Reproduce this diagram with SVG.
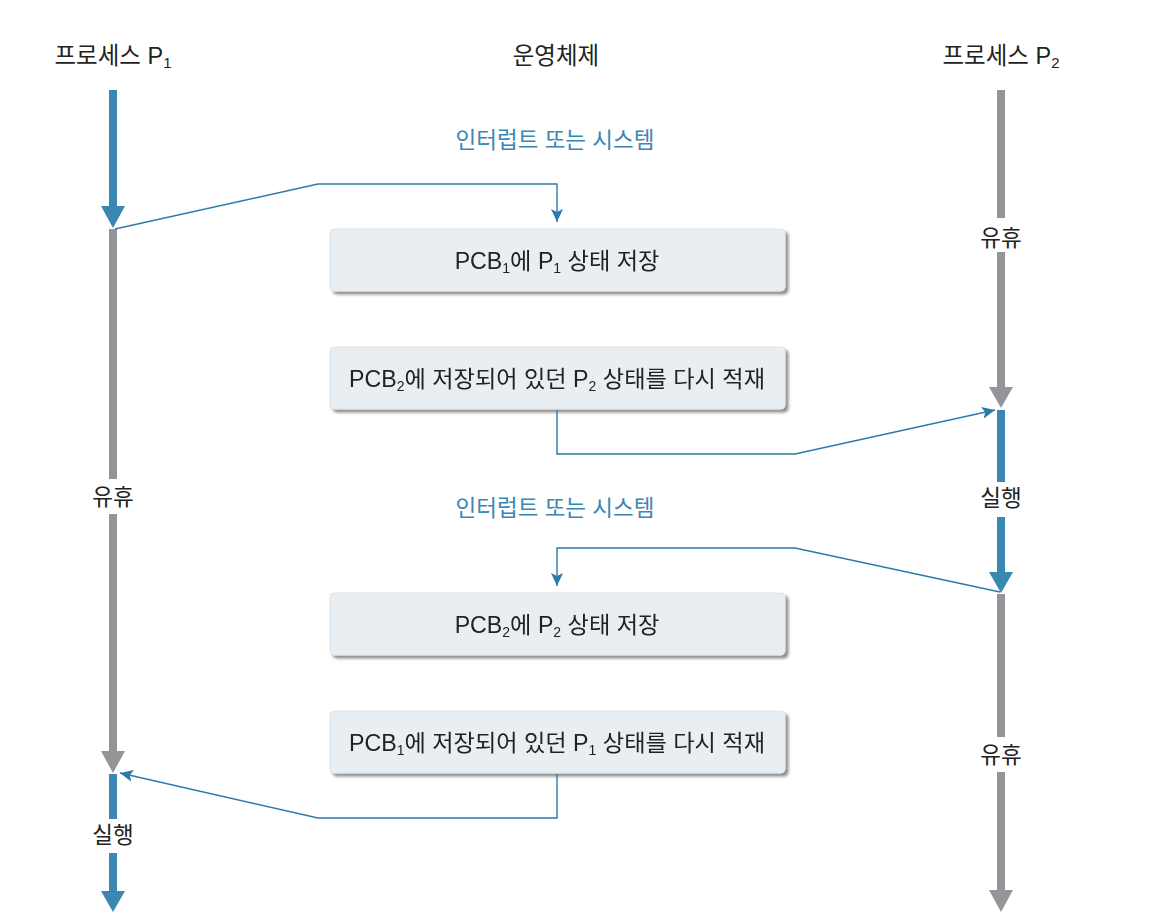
<svg xmlns="http://www.w3.org/2000/svg" width="1154" height="922" viewBox="0 0 1154 922">
<defs>
<style>
text{font-family:"Liberation Sans","Noto Sans CJK KR",sans-serif;fill:#222;}
.title{font-size:23.5px;text-anchor:middle;}
.lbl{font-size:22.5px;text-anchor:middle;}
.bt{font-size:23.2px;text-anchor:middle;}
.blue{fill:#3a86b5;}
.bx{fill:#e9eef3;stroke:#dfe4e9;stroke-width:1;}
.conn{fill:none;stroke:#2b7aab;stroke-width:1.4;}
.tb{fill:#3a87b2;}
.tg{fill:#939598;}
</style>
<filter id="sh" x="-5%" y="-20%" width="112%" height="150%">
<feGaussianBlur in="SourceAlpha" stdDeviation="1.8"/>
<feOffset dx="3" dy="3" result="b"/>
<feComponentTransfer><feFuncA type="linear" slope="0.45"/></feComponentTransfer>
<feMerge><feMergeNode/><feMergeNode in="SourceGraphic"/></feMerge>
</filter>
<marker id="ah" markerWidth="14" markerHeight="12" refX="13" refY="6" orient="auto" markerUnits="userSpaceOnUse">
<path d="M0,0 L13,6 L0,12 L3,6 z" fill="#2b7aab"/>
</marker>
</defs>

<g id="titles">
<text class="title" x="113" y="64">프로세스 P<tspan font-size="15" dy="4">1</tspan></text>
<text class="title" x="556" y="64">운영체제</text>
<text class="title" x="1001" y="64">프로세스 P<tspan font-size="15" dy="4">2</tspan></text>
</g>

<g id="timeline-p1">
<rect class="tb" x="109" y="90" width="8" height="118"/>
<polygon class="tb" points="101,206 125,206 113,228"/>
<rect class="tg" x="109" y="229" width="8" height="250"/>
<text class="lbl" x="113" y="505">유휴</text>
<rect class="tg" x="109" y="514" width="8" height="239"/>
<polygon class="tg" points="101,751 125,751 113,773"/>
<rect class="tb" x="109" y="774" width="8" height="45"/>
<text class="lbl" x="113" y="843">실행</text>
<rect class="tb" x="109" y="853" width="8" height="40"/>
<polygon class="tb" points="101,891 125,891 113,912"/>
</g>

<g id="timeline-p2">
<rect class="tg" x="997" y="90" width="8" height="128"/>
<text class="lbl" x="1001" y="246">유휴</text>
<rect class="tg" x="997" y="252" width="8" height="137"/>
<polygon class="tg" points="989,387 1013,387 1001,408"/>
<rect class="tb" x="997" y="410" width="8" height="72"/>
<text class="lbl" x="1001" y="506">실행</text>
<rect class="tb" x="997" y="517" width="8" height="57"/>
<polygon class="tb" points="989,572 1013,572 1001,593"/>
<rect class="tg" x="997" y="594" width="8" height="143"/>
<text class="lbl" x="1001" y="763">유휴</text>
<rect class="tg" x="997" y="772" width="8" height="120"/>
<polygon class="tg" points="989,890 1013,890 1001,912"/>
</g>

<g id="labels">
<text class="lbl blue" x="555" y="148">인터럽트 또는 시스템</text>
<text class="lbl blue" x="555" y="516">인터럽트 또는 시스템</text>
</g>

<g id="box1" filter="url(#sh)">
<rect class="bx" x="330" y="229" width="455" height="62" rx="4"/>
<text class="bt" x="557" y="269">PCB<tspan font-size="14" dy="4">1</tspan><tspan dy="-4">에 P</tspan><tspan font-size="14" dy="4">1</tspan><tspan dy="-4"> 상태 저장</tspan></text>
</g>
<g id="box2" filter="url(#sh)">
<rect class="bx" x="330" y="347" width="455" height="62" rx="4"/>
<text class="bt" x="557" y="387">PCB<tspan font-size="14" dy="4">2</tspan><tspan dy="-4">에 저장되어 있던 P</tspan><tspan font-size="14" dy="4">2</tspan><tspan dy="-4"> 상태를 다시 적재</tspan></text>
</g>
<g id="box3" filter="url(#sh)">
<rect class="bx" x="330" y="593" width="455" height="62" rx="4"/>
<text class="bt" x="557" y="633">PCB<tspan font-size="14" dy="4">2</tspan><tspan dy="-4">에 P</tspan><tspan font-size="14" dy="4">2</tspan><tspan dy="-4"> 상태 저장</tspan></text>
</g>
<g id="box4" filter="url(#sh)">
<rect class="bx" x="330" y="711" width="455" height="62" rx="4"/>
<text class="bt" x="557" y="751">PCB<tspan font-size="14" dy="4">1</tspan><tspan dy="-4">에 저장되어 있던 P</tspan><tspan font-size="14" dy="4">1</tspan><tspan dy="-4"> 상태를 다시 적재</tspan></text>
</g>

<g id="connectors">
<polyline class="conn" points="115,229 318,184 557,184 557,222" marker-end="url(#ah)"/>
<polyline class="conn" points="557,410 557,454 795,454 995,410" marker-end="url(#ah)"/>
<polyline class="conn" points="1000,592 795,548 557,548 557,586" marker-end="url(#ah)"/>
<polyline class="conn" points="557,774 557,818 318,818 120,773" marker-end="url(#ah)"/>
</g>
</svg>
